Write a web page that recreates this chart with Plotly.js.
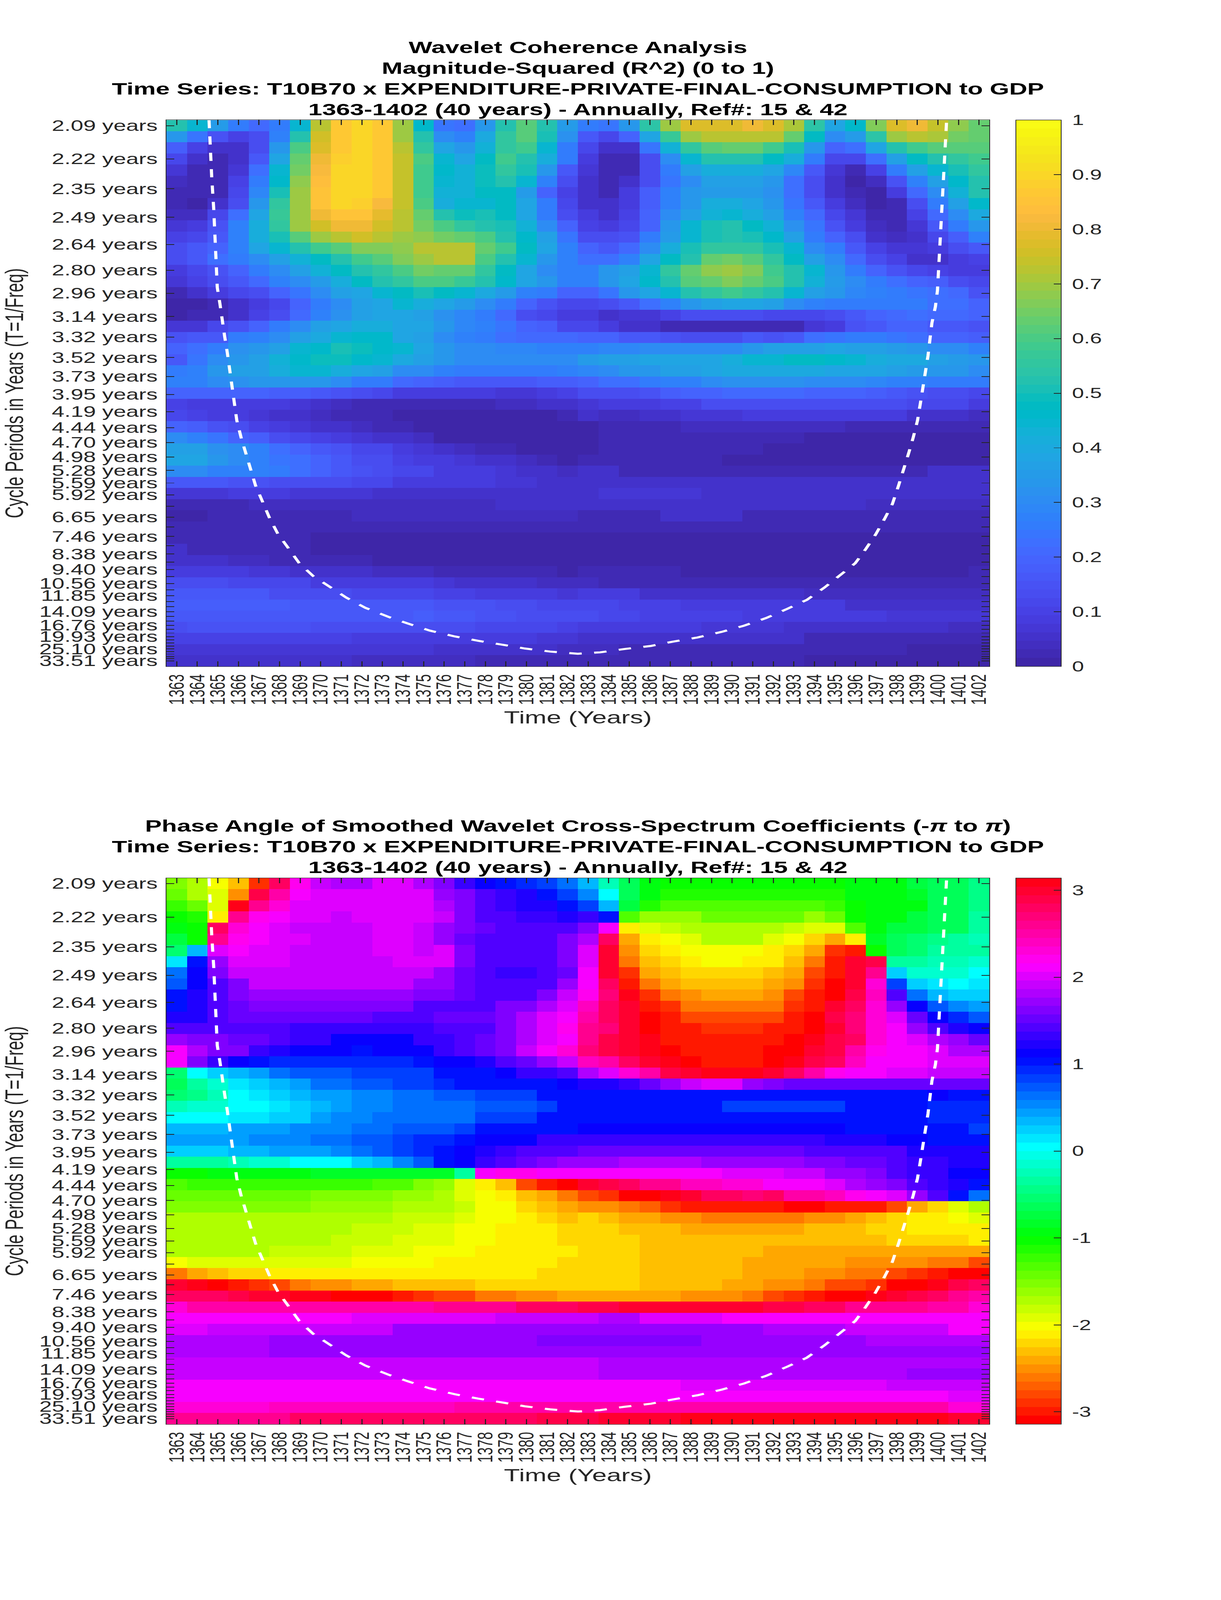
<!DOCTYPE html>
<html>
<head>
<meta charset="utf-8">
<script src="https://cdn.plot.ly/plotly-3.0.1.min.js"></script>
<style>html,body{margin:0;padding:0;background:#fff;overflow:hidden}</style>
</head>
<body>
<div id="frame" style="width:3125px;overflow:hidden"><div id="chart" style="width:3125px;height:6252px;transform-origin:0 0"></div></div>
<script>
const years = [1363,1364,1365,1366,1367,1368,1369,1370,1371,1372,1373,1374,1375,1376,1377,1378,1379,1380,1381,1382,1383,1384,1385,1386,1387,1388,1389,1390,1391,1392,1393,1394,1395,1396,1397,1398,1399,1400,1401,1402];
const periods = [2.09,2.22,2.35,2.49,2.64,2.80,2.96,3.14,3.32,3.52,3.73,3.95,4.19,4.44,4.70,4.98,5.28,5.59,5.92,6.27,6.65,7.04,7.46,7.91,8.38,8.88,9.40,9.96,10.56,11.19,11.85,12.55,13.30,14.09,14.93,15.82,16.76,17.76,18.81,19.93,21.11,22.37,23.70,25.10,26.59,28.18,29.85,31.62,33.51];
const periodLabels = ['2.09 years','2.22 years','2.35 years','2.49 years','2.64 years','2.80 years','2.96 years','3.14 years','3.32 years','3.52 years','3.73 years','3.95 years','4.19 years','4.44 years','4.70 years','4.98 years','5.28 years','5.59 years','5.92 years','','6.65 years','','7.46 years','','8.38 years','','9.40 years','','10.56 years','','11.85 years','','','14.09 years','','','16.76 years','','','19.93 years','','','','25.10 years','','','','','33.51 years'];

const coherence = [
[.52,.45,.35,.25,.21,.25,.45,.72,.86,.90,.86,.70,.46,.24,.23,.33,.52,.62,.52,.35,.25,.24,.33,.54,.70,.78,.77,.77,.80,.78,.71,.54,.38,.46,.66,.78,.80,.74,.68,.64],
[.33,.24,.15,.10,.14,.28,.52,.76,.86,.90,.86,.70,.52,.30,.28,.40,.55,.62,.50,.32,.17,.12,.20,.38,.57,.70,.73,.73,.73,.72,.63,.47,.30,.35,.54,.70,.73,.71,.65,.63],
[.18,.10,.05,.05,.14,.33,.60,.78,.87,.90,.86,.72,.55,.38,.33,.43,.55,.58,.45,.26,.11,.05,.05,.24,.43,.55,.62,.63,.63,.58,.50,.33,.20,.23,.38,.52,.58,.61,.61,.61],
[.11,.06,.02,.05,.17,.38,.63,.80,.89,.90,.86,.74,.60,.44,.38,.47,.58,.53,.41,.25,.08,.03,.03,.14,.31,.45,.52,.52,.52,.47,.41,.25,.12,.12,.22,.36,.47,.53,.55,.58],
[.07,.03,.02,.07,.22,.45,.65,.82,.90,.90,.86,.74,.59,.46,.43,.49,.56,.50,.33,.16,.07,.02,.03,.13,.26,.36,.42,.42,.42,.38,.29,.16,.07,.03,.10,.25,.36,.45,.51,.55],
[.04,.02,.02,.10,.25,.46,.68,.83,.90,.90,.86,.74,.58,.45,.43,.49,.53,.45,.27,.13,.06,.03,.05,.14,.24,.30,.36,.37,.37,.33,.22,.13,.06,.01,.04,.15,.28,.36,.46,.53],
[.03,.02,.03,.11,.29,.50,.70,.85,.90,.90,.86,.74,.58,.43,.43,.47,.48,.35,.20,.10,.05,.03,.08,.18,.27,.33,.35,.35,.35,.32,.22,.13,.06,.02,.01,.08,.21,.30,.43,.52],
[.03,.01,.05,.14,.33,.55,.70,.85,.90,.88,.82,.74,.60,.42,.45,.45,.47,.38,.25,.12,.06,.05,.08,.18,.28,.34,.42,.42,.38,.33,.24,.16,.08,.04,.01,.02,.14,.25,.36,.46],
[.04,.04,.11,.22,.38,.57,.70,.80,.85,.85,.79,.73,.64,.52,.49,.50,.47,.38,.26,.14,.08,.06,.10,.19,.30,.37,.43,.44,.42,.37,.27,.21,.12,.07,.02,.02,.10,.21,.31,.40],
[.07,.08,.15,.27,.41,.56,.69,.75,.80,.80,.76,.72,.65,.60,.56,.52,.50,.43,.30,.20,.10,.08,.12,.20,.33,.44,.50,.52,.47,.43,.32,.24,.15,.08,.04,.02,.07,.16,.25,.33],
[.10,.11,.17,.28,.41,.50,.62,.70,.73,.75,.73,.70,.68,.65,.63,.60,.52,.46,.36,.24,.13,.13,.15,.25,.35,.45,.51,.52,.51,.46,.36,.26,.19,.13,.06,.04,.05,.11,.18,.27],
[.13,.17,.20,.27,.38,.44,.53,.58,.62,.66,.67,.68,.72,.72,.72,.63,.58,.47,.39,.27,.19,.16,.21,.30,.42,.50,.55,.56,.55,.51,.45,.31,.26,.17,.10,.07,.07,.09,.13,.16],
[.13,.16,.22,.25,.31,.37,.43,.48,.53,.58,.62,.66,.70,.72,.72,.60,.53,.44,.34,.28,.23,.23,.28,.38,.47,.52,.63,.65,.62,.55,.47,.36,.30,.21,.14,.10,.06,.05,.08,.10],
[.08,.12,.15,.19,.26,.31,.36,.43,.47,.52,.56,.60,.65,.63,.63,.55,.47,.39,.31,.27,.28,.33,.37,.45,.55,.63,.68,.70,.66,.58,.52,.44,.33,.26,.20,.15,.12,.10,.08,.08],
[.07,.10,.14,.17,.21,.27,.31,.35,.41,.47,.52,.56,.60,.60,.57,.52,.46,.38,.33,.28,.28,.33,.38,.46,.53,.61,.64,.66,.64,.60,.52,.43,.35,.30,.25,.22,.19,.18,.14,.12],
[.03,.05,.09,.11,.14,.19,.24,.30,.36,.39,.44,.47,.50,.47,.44,.40,.35,.28,.25,.20,.19,.24,.33,.38,.45,.52,.56,.58,.55,.52,.45,.37,.33,.29,.27,.26,.24,.23,.21,.15],
[.00,.00,.02,.05,.08,.12,.19,.25,.31,.36,.39,.44,.41,.38,.35,.30,.26,.19,.15,.12,.12,.14,.17,.23,.28,.33,.37,.39,.39,.37,.30,.27,.25,.25,.25,.25,.25,.23,.22,.19],
[.01,.02,.03,.06,.10,.14,.21,.27,.32,.37,.38,.38,.37,.32,.29,.25,.21,.13,.12,.09,.08,.06,.07,.07,.10,.13,.14,.14,.14,.12,.12,.12,.14,.17,.20,.21,.22,.21,.21,.20],
[.07,.07,.12,.15,.19,.26,.31,.36,.39,.41,.41,.39,.38,.33,.29,.27,.24,.20,.18,.12,.11,.09,.06,.06,.03,.02,.02,.02,.02,.02,.03,.07,.09,.15,.17,.19,.19,.17,.17,.15],
[.15,.16,.17,.25,.28,.31,.36,.40,.44,.46,.46,.39,.37,.31,.28,.26,.23,.21,.21,.21,.20,.19,.17,.17,.15,.14,.14,.14,.16,.15,.17,.22,.24,.25,.25,.24,.22,.20,.19,.18],
[.19,.22,.25,.32,.34,.37,.45,.46,.50,.49,.46,.44,.38,.34,.31,.30,.29,.29,.28,.28,.28,.29,.29,.30,.31,.31,.31,.31,.34,.36,.37,.37,.38,.37,.36,.35,.33,.31,.30,.28],
[.17,.24,.30,.34,.36,.43,.46,.49,.49,.46,.45,.40,.37,.33,.31,.30,.30,.30,.30,.30,.35,.36,.37,.38,.39,.39,.39,.41,.45,.45,.47,.47,.46,.44,.41,.40,.40,.37,.35,.34],
[.25,.27,.33,.36,.37,.41,.44,.44,.41,.38,.36,.31,.30,.27,.26,.25,.25,.25,.26,.27,.29,.31,.33,.33,.36,.37,.38,.40,.40,.40,.40,.40,.39,.38,.38,.36,.35,.34,.33,.30],
[.27,.27,.30,.32,.33,.33,.33,.33,.30,.26,.26,.21,.20,.18,.17,.17,.17,.17,.18,.18,.20,.22,.23,.25,.27,.28,.30,.32,.32,.32,.32,.31,.31,.30,.29,.27,.27,.25,.25,.25],
[.19,.19,.19,.20,.19,.18,.18,.16,.15,.13,.12,.09,.08,.08,.08,.08,.07,.07,.08,.10,.14,.13,.14,.15,.18,.19,.19,.21,.21,.21,.21,.20,.20,.19,.18,.17,.15,.14,.14,.12],
[.10,.09,.09,.09,.08,.08,.07,.06,.04,.03,.03,.02,.02,.02,.02,.02,.04,.04,.05,.05,.07,.08,.08,.09,.10,.10,.13,.13,.13,.14,.14,.14,.14,.14,.14,.13,.12,.11,.11,.08],
[.11,.10,.08,.08,.07,.05,.05,.04,.03,.02,.02,.01,.01,.01,.01,.01,.01,.01,.01,.03,.05,.04,.04,.05,.05,.07,.07,.07,.08,.08,.08,.09,.08,.08,.08,.08,.06,.06,.06,.04],
[.19,.18,.15,.13,.10,.08,.07,.06,.05,.04,.03,.02,.01,.01,.00,.00,.00,.00,.00,.00,.01,.02,.03,.03,.03,.04,.04,.04,.04,.04,.04,.04,.04,.03,.02,.02,.02,.02,.02,.02],
[.31,.27,.24,.20,.18,.14,.12,.10,.08,.07,.06,.05,.04,.01,.01,.01,.00,.00,.00,.00,.01,.02,.02,.02,.02,.02,.02,.02,.02,.02,.02,.01,.01,.01,.01,.01,.01,.01,.01,.01],
[.37,.36,.32,.30,.27,.22,.19,.17,.15,.11,.11,.09,.07,.05,.04,.03,.02,.01,.01,.00,.01,.02,.02,.02,.02,.02,.02,.02,.02,.00,.00,.00,.00,.00,.00,.00,.00,.00,.00,.00],
[.39,.38,.34,.30,.27,.24,.22,.19,.16,.14,.13,.10,.09,.08,.07,.06,.05,.04,.02,.01,.03,.02,.02,.02,.02,.02,.02,.01,.01,.01,.01,.01,.01,.01,.01,.01,.01,.01,.01,.01],
[.31,.30,.28,.27,.27,.25,.22,.20,.17,.15,.13,.12,.11,.09,.08,.08,.07,.06,.05,.04,.05,.05,.03,.03,.03,.03,.03,.03,.03,.02,.02,.02,.02,.02,.02,.02,.02,.05,.05,.05],
[.17,.17,.16,.15,.15,.14,.13,.13,.13,.12,.11,.09,.09,.08,.08,.08,.07,.07,.06,.05,.06,.05,.05,.05,.05,.05,.05,.05,.05,.05,.05,.05,.05,.05,.05,.05,.05,.05,.05,.05],
[.07,.07,.07,.08,.08,.08,.07,.07,.07,.07,.06,.06,.06,.06,.06,.06,.06,.06,.06,.06,.06,.07,.07,.07,.07,.07,.05,.05,.05,.05,.05,.05,.05,.05,.05,.05,.05,.05,.05,.05],
[.02,.03,.03,.03,.04,.04,.04,.04,.04,.04,.04,.04,.04,.04,.04,.04,.05,.05,.05,.05,.05,.05,.05,.05,.05,.05,.05,.05,.05,.05,.05,.05,.05,.05,.04,.04,.04,.04,.04,.04],
[.01,.01,.02,.02,.03,.03,.03,.03,.03,.04,.04,.04,.04,.04,.04,.04,.04,.04,.04,.04,.03,.03,.03,.03,.05,.05,.05,.05,.03,.03,.03,.03,.03,.03,.03,.03,.03,.03,.03,.03],
[.02,.02,.02,.02,.02,.02,.02,.02,.02,.02,.02,.02,.02,.02,.02,.02,.02,.02,.02,.02,.02,.02,.02,.02,.02,.02,.02,.02,.02,.02,.02,.02,.02,.02,.02,.02,.02,.02,.02,.02],
[.03,.03,.02,.02,.02,.02,.02,.00,.00,.00,.00,.00,.00,.00,.00,.00,.00,.00,.00,.00,.00,.00,.00,.00,.00,.00,.00,.00,.00,.00,.00,.00,.00,.00,.00,.00,.00,.01,.01,.01],
[.05,.03,.03,.03,.02,.02,.02,.01,.01,.01,.01,.00,.00,.00,.00,.00,.00,.00,.00,.00,.00,.00,.00,.00,.00,.00,.00,.00,.00,.00,.00,.00,.00,.00,.00,.00,.01,.01,.01,.01],
[.06,.05,.05,.04,.04,.03,.03,.03,.02,.02,.01,.01,.01,.01,.00,.00,.00,.00,.00,.00,.00,.00,.00,.00,.00,.00,.00,.00,.00,.00,.00,.00,.00,.00,.01,.01,.01,.01,.01,.01],
[.08,.08,.09,.08,.07,.07,.06,.05,.05,.05,.04,.04,.04,.03,.03,.03,.03,.02,.02,.01,.02,.02,.02,.02,.02,.01,.01,.01,.01,.01,.01,.01,.01,.01,.01,.01,.01,.01,.01,.03],
[.13,.13,.13,.12,.11,.11,.11,.09,.09,.09,.08,.08,.08,.07,.06,.06,.05,.05,.04,.04,.04,.03,.03,.03,.02,.02,.02,.02,.02,.02,.02,.02,.02,.02,.02,.02,.02,.02,.02,.02],
[.16,.16,.16,.16,.16,.14,.14,.14,.13,.12,.12,.11,.11,.10,.10,.09,.09,.08,.08,.07,.08,.08,.08,.06,.06,.06,.05,.05,.05,.05,.05,.04,.04,.04,.04,.04,.04,.04,.04,.04],
[.18,.18,.18,.18,.18,.18,.17,.17,.17,.17,.16,.16,.16,.15,.15,.15,.13,.13,.12,.12,.11,.11,.10,.10,.10,.09,.09,.09,.09,.09,.08,.08,.08,.06,.06,.06,.06,.06,.06,.06],
[.17,.17,.17,.17,.17,.17,.17,.17,.17,.17,.17,.17,.18,.16,.16,.15,.15,.14,.14,.13,.14,.11,.11,.10,.10,.10,.10,.10,.09,.09,.09,.09,.08,.08,.08,.07,.07,.07,.07,.07],
[.13,.15,.15,.15,.15,.15,.15,.14,.14,.14,.14,.14,.14,.13,.13,.12,.12,.11,.11,.10,.09,.09,.09,.08,.08,.08,.07,.07,.07,.07,.06,.06,.06,.06,.06,.06,.06,.06,.04,.04],
[.10,.10,.10,.10,.10,.10,.10,.10,.10,.09,.09,.09,.09,.09,.08,.08,.08,.08,.07,.07,.06,.06,.06,.05,.05,.05,.05,.05,.05,.05,.05,.03,.03,.03,.03,.03,.03,.03,.03,.03],
[.07,.07,.07,.07,.07,.07,.07,.07,.07,.07,.07,.07,.07,.06,.06,.06,.05,.05,.05,.04,.04,.04,.03,.03,.03,.03,.03,.03,.02,.02,.02,.02,.02,.02,.02,.02,.01,.01,.01,.01],
[.05,.05,.05,.05,.05,.05,.05,.05,.05,.04,.04,.04,.04,.04,.04,.03,.03,.03,.03,.03,.03,.03,.03,.03,.02,.02,.02,.02,.02,.02,.02,.01,.01,.01,.01,.01,.01,.01,.01,.01]
];

const phase = [
[-1.57,-1.75,-1.98,-2.3,-2.9,2.75,2.2,1.95,1.85,1.85,2.0,2.0,1.85,1.65,1.3,1.15,1.05,.95,.8,.6,.3,-.2,-.6,-.9,-1.05,-1.05,-1.05,-1.05,-1.05,-1.05,-1.05,-1.05,-1.05,-.95,-.95,-.95,-.75,-.65,-.65,-.4],
[-1.4,-1.67,-1.88,-2.55,2.88,2.5,2.1,2.0,2.0,2.0,2.0,2.0,2.0,1.75,1.58,1.38,1.3,1.2,1.05,.85,.58,0,-.6,-.9,-1.17,-1.17,-1.17,-1.17,-1.17,-1.17,-1.17,-1.1,-1.1,-.9,-.9,-.9,-.8,-.65,-.65,-.4],
[-1.2,-1.4,-1.88,3.05,2.6,2.3,2.0,2.0,2.0,2.0,2.0,2.0,2.0,1.85,1.65,1.45,1.35,1.25,1.25,1.05,.85,.3,-.75,-1.17,-1.37,-1.37,-1.37,-1.37,-1.37,-1.3,-1.3,-1.3,-1.2,-1.05,-.9,-.9,-.9,-.65,-.65,-.42],
[-1.05,-1.17,-2.15,2.65,2.2,2.1,2.0,2.0,1.88,2.0,2.0,2.0,2.0,1.9,1.6,1.45,1.4,1.3,1.3,1.25,1.3,1.05,-1.35,-1.58,-1.58,-1.58,-1.47,-1.47,-1.47,-1.47,-1.47,-1.58,-1.47,-1.05,-.9,-.9,-.7,-.6,-.6,-.35],
[-.95,-1.05,2.75,2.35,2.1,1.98,1.9,1.9,1.9,1.9,2.03,2.03,1.88,1.75,1.6,1.5,1.42,1.42,1.42,1.42,1.58,2.1,-2.15,-1.88,-1.8,-1.67,-1.67,-1.67,-1.67,-1.67,-1.8,-1.88,-1.88,-1.35,-.95,-.7,-.7,-.6,-.6,-.35],
[-.75,-1.05,2.65,2.2,2.1,2.0,2.0,1.9,1.9,1.9,2.03,2.03,1.9,1.7,1.55,1.45,1.4,1.4,1.4,1.6,1.8,2.8,-2.44,-2.09,-2.0,-1.88,-1.75,-1.75,-1.75,-1.88,-2.0,-2.2,-2.44,-2.09,-.8,-.6,-.5,-.42,-.35,-.22],
[-.5,.35,2.0,2.1,2.0,2.0,1.9,1.9,1.9,1.9,2.03,2.03,1.93,2.03,1.6,1.45,1.4,1.4,1.4,1.65,2.03,3.0,-2.55,-2.25,-2.09,-1.97,-1.97,-1.97,-1.97,-2.09,-2.25,-2.44,-2.85,-2.95,-1.05,-.62,-.52,-.35,-.35,-.3],
[.1,1.05,1.75,2.0,1.98,1.98,1.88,1.88,1.88,1.88,1.88,2.03,2.03,1.98,1.6,1.45,1.4,1.4,1.4,1.65,2.0,3.0,-2.65,-2.35,-2.25,-2.15,-2.05,-2.05,-2.15,-2.15,-2.35,-2.65,-2.95,3.0,2.9,-.3,-.3,-.25,-.25,-.12],
[.6,1.15,1.58,1.88,1.88,1.88,1.88,1.88,1.88,1.88,1.88,1.88,1.88,1.7,1.55,1.45,1.35,1.35,1.45,1.55,2.1,2.95,-2.85,-2.44,-2.35,-2.22,-2.22,-2.22,-2.22,-2.35,-2.44,-2.75,-3.0,3.0,2.65,.2,-.1,-.1,-.1,0],
[.75,1.15,1.42,1.65,1.88,1.88,1.88,1.88,1.88,1.88,1.88,1.88,1.75,1.75,1.5,1.45,1.45,1.45,1.45,1.75,2.1,2.8,-2.95,-2.65,-2.44,-2.35,-2.35,-2.35,-2.35,-2.44,-2.55,-2.85,-3.14,2.95,2.35,.85,.2,.1,0,.1],
[1.05,1.25,1.42,1.58,1.75,1.75,1.75,1.75,1.75,1.75,1.75,1.75,1.6,1.6,1.5,1.45,1.45,1.45,1.65,1.9,2.2,2.7,3.1,-2.85,-2.65,-2.55,-2.44,-2.44,-2.44,-2.55,-2.75,-2.95,-3.14,2.85,2.45,1.4,.6,.35,.2,.2],
[1.05,1.2,1.38,1.5,1.65,1.65,1.65,1.65,1.65,1.65,1.65,1.65,1.47,1.47,1.47,1.47,1.58,1.58,1.8,2.0,2.4,2.75,3.0,-3.0,-2.85,-2.65,-2.65,-2.65,-2.65,-2.65,-2.85,-3.0,3.0,2.75,2.35,1.75,1.15,.75,.5,.42],
[1.2,1.25,1.38,1.5,1.5,1.5,1.5,1.5,1.5,1.5,1.4,1.4,1.4,1.5,1.5,1.5,1.65,1.85,2.0,2.15,2.55,2.75,2.95,-3.14,-2.95,-2.8,-2.75,-2.75,-2.75,-2.8,-2.95,-3.14,2.9,2.7,2.3,2.0,1.5,1.15,.95,.75],
[1.4,1.4,1.47,1.47,1.47,1.47,1.33,1.33,1.3,1.3,1.3,1.3,1.3,1.42,1.47,1.42,1.6,1.85,2.05,2.2,2.6,2.7,2.95,-3.14,-3.0,-2.95,-2.85,-2.85,-2.85,-2.95,-2.95,-3.14,2.95,2.7,2.3,2.1,1.75,1.38,1.2,1.15],
[1.75,1.58,1.58,1.55,1.55,1.4,1.3,1.3,1.17,1.17,1.17,1.17,1.33,1.33,1.42,1.55,1.58,1.85,2.05,2.1,2.65,2.9,2.95,3.05,-3.0,-2.95,-2.95,-2.95,-2.95,-2.95,-3.05,3.05,2.9,2.8,2.35,2.1,2.03,1.85,1.75,1.55],
[2.1,1.85,1.65,1.58,1.33,1.2,1.12,1.12,1.12,1.05,1.12,1.12,1.12,1.3,1.38,1.5,1.65,1.88,2.1,2.3,2.7,2.9,2.95,3.05,-3.14,-3.0,-2.95,-2.95,-2.95,-3.05,-3.14,3.0,2.9,2.55,2.25,2.1,2.1,2.05,1.85,1.85],
[2.1,1.58,1.3,1.1,1.05,.98,.98,.98,.98,.98,.98,.98,1.05,1.15,1.15,1.25,1.38,1.55,1.75,1.88,2.4,2.55,2.8,3.0,3.05,-3.14,-3.0,-3.0,-3.0,-3.14,3.05,2.9,2.75,2.45,2.15,2.1,2.1,2.05,2.0,2.0],
[-.5,0,.25,.35,.47,.6,.72,.75,.75,.8,.8,.87,.87,1.05,1.05,1.05,1.15,1.3,1.33,1.42,1.85,2.0,2.35,2.55,2.9,3.0,3.05,3.05,3.05,2.95,2.8,2.5,2.25,2.1,2.1,2.0,2.0,1.93,1.93,1.93],
[-.6,-.35,-.1,.1,.2,.35,.42,.6,.65,.7,.7,.8,.8,.9,1.05,1.05,1.05,1.05,1.05,1.15,1.25,1.25,1.35,1.55,1.75,1.9,2.0,2.0,1.75,1.65,1.55,1.55,1.5,1.5,1.5,1.55,1.55,1.55,1.55,1.55],
[-.5,-.42,-.22,0,.1,.2,.32,.45,.45,.55,.55,.65,.65,.75,.75,.87,.87,.87,1.05,1.05,1.05,1.0,1.0,1.0,1.0,1.0,1.0,1.0,1.0,1.0,1.0,1.0,1.0,1.05,1.05,1.05,1.05,1.15,1.05,1.05],
[-.2,-.12,-.12,0,.05,.17,.25,.3,.42,.5,.5,.6,.6,.62,.62,.75,.75,.75,.8,1.0,1.0,1.0,1.0,1.0,1.0,1.0,1.0,.87,.87,.87,.87,.87,.87,1.0,1.0,1.0,1.0,.9,.9,.9],
[0,.07,.07,.18,.18,.25,.25,.42,.55,.55,.6,.65,.65,.65,.68,.85,.85,.87,1.05,1.05,1.05,1.0,1.05,1.05,1.05,1.05,1.05,1.0,1.0,1.0,1.0,1.0,1.0,1.0,1.0,1.0,1.0,.9,.9,.9],
[.35,.35,.35,.4,.4,.4,.53,.53,.53,.6,.6,.7,.75,.75,.87,1.0,1.0,1.05,1.05,1.05,1.15,1.15,1.15,1.15,1.15,1.15,1.15,1.15,1.15,1.15,1.15,1.15,1.15,1.05,1.05,1.05,1.05,1.05,1.05,.87],
[.4,.4,.4,.4,.5,.5,.5,.65,.65,.72,.72,.85,.95,.95,1.05,1.13,1.15,1.15,1.28,1.28,1.3,1.35,1.35,1.35,1.35,1.35,1.35,1.35,1.35,1.35,1.35,1.35,1.25,1.25,1.25,1.15,1.15,1.05,1.05,1.02],
[.2,.25,.25,.35,.35,.4,.47,.47,.5,.65,.72,.8,.92,1.05,1.1,1.25,1.33,1.4,1.45,1.45,1.5,1.55,1.55,1.55,1.55,1.55,1.55,1.55,1.55,1.55,1.55,1.47,1.47,1.47,1.38,1.38,1.25,1.25,1.2,1.2],
[-.35,-.35,-.3,-.25,-.12,-.12,0,0,.08,.2,.3,.5,.7,1.05,1.15,1.3,1.4,1.5,1.65,1.75,1.75,1.75,1.85,1.85,1.85,1.85,1.75,1.75,1.75,1.75,1.75,1.65,1.65,1.5,1.5,1.42,1.33,1.3,1.2,1.2],
[-1.05,-1.05,-.95,-.95,-.95,-.95,-.95,-.87,-.87,-.87,-.87,-.87,-.87,-.87,-.35,2.1,2.2,2.2,2.1,2.1,2.1,2.15,2.15,2.15,2.15,2.15,2.15,2.0,2.0,2.0,1.9,1.9,1.75,1.75,1.6,1.45,1.33,1.3,1.15,1.1],
[-1.3,-1.2,-1.2,-1.2,-1.2,-1.2,-1.2,-1.25,-1.25,-1.25,-1.37,-1.37,-1.5,-1.65,-1.88,-2.09,-2.35,-2.75,-3.0,-3.14,2.95,2.85,2.75,2.6,2.6,2.45,2.45,2.35,2.35,2.15,2.1,2.1,2.0,1.85,1.7,1.58,1.45,1.33,1.25,1.05],
[-1.42,-1.42,-1.42,-1.42,-1.42,-1.42,-1.42,-1.55,-1.55,-1.55,-1.55,-1.65,-1.65,-1.75,-1.88,-2.0,-2.09,-2.3,-2.44,-2.6,-2.8,-2.9,-3.05,-3.14,3.05,2.95,2.8,2.8,2.7,2.75,2.55,2.55,2.45,2.2,2.1,2.0,1.75,1.45,1.05,.6],
[-1.5,-1.5,-1.5,-1.5,-1.5,-1.5,-1.5,-1.6,-1.6,-1.6,-1.6,-1.68,-1.68,-1.68,-1.85,-2.0,-2.05,-2.25,-2.3,-2.4,-2.5,-2.55,-2.65,-2.72,-2.85,-2.95,-2.95,-3.02,-3.02,-3.02,-3.14,-3.14,-3.02,-3.02,-2.95,-2.75,-2.45,-2.2,-1.88,-1.75],
[-1.68,-1.68,-1.68,-1.68,-1.68,-1.68,-1.68,-1.68,-1.68,-1.68,-1.75,-1.82,-1.82,-1.82,-1.92,-2.02,-2.05,-2.15,-2.22,-2.3,-2.2,-2.35,-2.44,-2.44,-2.52,-2.52,-2.65,-2.65,-2.65,-2.65,-2.65,-2.55,-2.55,-2.44,-2.35,-2.25,-2.15,-2.08,-2.0,-1.88],
[-1.75,-1.75,-1.75,-1.75,-1.75,-1.75,-1.75,-1.75,-1.75,-1.82,-1.82,-1.82,-1.9,-1.9,-2.02,-2.02,-2.08,-2.08,-2.15,-2.2,-2.2,-2.2,-2.35,-2.35,-2.35,-2.45,-2.45,-2.45,-2.45,-2.45,-2.45,-2.35,-2.35,-2.35,-2.25,-2.25,-2.15,-2.15,-2.07,-2.07],
[-1.75,-1.75,-1.75,-1.75,-1.75,-1.75,-1.75,-1.75,-1.82,-1.82,-1.82,-1.9,-1.9,-1.9,-2.02,-2.02,-2.08,-2.08,-2.15,-2.2,-2.2,-2.2,-2.2,-2.32,-2.32,-2.32,-2.32,-2.32,-2.32,-2.32,-2.32,-2.32,-2.32,-2.32,-2.32,-2.25,-2.25,-2.25,-2.25,-2.15],
[-1.75,-1.75,-1.75,-1.75,-1.75,-1.82,-1.82,-1.82,-1.82,-1.9,-1.9,-1.9,-1.98,-1.98,-1.98,-2.07,-2.07,-2.15,-2.15,-2.15,-2.2,-2.2,-2.2,-2.32,-2.32,-2.32,-2.32,-2.32,-2.32,-2.44,-2.44,-2.44,-2.44,-2.44,-2.44,-2.44,-2.44,-2.44,-2.44,-2.44],
[-1.98,-1.88,-1.88,-1.88,-1.88,-1.88,-1.88,-1.88,-1.88,-1.98,-1.98,-1.98,-1.98,-2.07,-2.07,-2.07,-2.15,-2.15,-2.15,-2.2,-2.2,-2.2,-2.2,-2.32,-2.32,-2.32,-2.32,-2.32,-2.44,-2.44,-2.44,-2.44,-2.44,-2.55,-2.55,-2.55,-2.55,-2.65,-2.65,-2.78],
[-2.6,-2.44,-2.35,-2.25,-2.25,-2.15,-2.15,-2.15,-2.15,-2.15,-2.15,-2.15,-2.15,-2.15,-2.15,-2.15,-2.15,-2.15,-2.2,-2.2,-2.2,-2.2,-2.2,-2.32,-2.32,-2.32,-2.32,-2.32,-2.44,-2.44,-2.44,-2.55,-2.55,-2.65,-2.65,-2.75,-2.85,-2.95,-3.05,-3.14],
[2.95,3.1,-3.05,-2.95,-2.85,-2.75,-2.65,-2.55,-2.55,-2.44,-2.44,-2.32,-2.32,-2.32,-2.32,-2.25,-2.25,-2.25,-2.25,-2.25,-2.25,-2.22,-2.22,-2.32,-2.32,-2.32,-2.32,-2.44,-2.44,-2.55,-2.55,-2.65,-2.75,-2.75,-2.9,-3.05,-3.14,3.05,2.9,2.8],
[2.75,2.8,2.8,2.85,2.95,2.95,3.05,3.1,-3.14,-3.05,-3.05,-2.95,-2.85,-2.75,-2.75,-2.65,-2.65,-2.55,-2.55,-2.44,-2.44,-2.44,-2.44,-2.44,-2.44,-2.55,-2.55,-2.55,-2.65,-2.75,-2.85,-2.95,-3.05,-3.14,3.1,3.0,2.85,2.8,2.65,2.55],
[2.3,2.5,2.5,2.5,2.5,2.5,2.5,2.5,2.55,2.55,2.55,2.55,2.55,2.62,2.62,2.62,2.62,2.78,2.78,2.78,2.85,2.85,2.95,2.95,2.95,2.95,2.95,2.95,2.95,2.88,2.88,2.8,2.8,2.6,2.6,2.6,2.6,2.5,2.5,2.35],
[2.1,2.1,2.1,2.1,2.1,2.1,2.1,2.1,2.1,2.0,2.0,2.0,2.0,2.0,2.0,2.0,1.9,1.9,1.9,1.9,1.9,1.85,1.85,1.97,1.97,1.97,1.97,2.1,2.1,2.1,2.1,2.12,2.12,2.12,2.12,2.12,2.12,2.12,2.12,2.12],
[2.0,2.0,1.88,1.88,1.88,1.88,1.88,1.88,1.88,1.88,1.88,1.75,1.75,1.75,1.75,1.75,1.75,1.75,1.75,1.75,1.75,1.75,1.75,1.75,1.75,1.75,1.75,1.75,1.75,1.85,1.85,1.85,1.85,1.95,1.95,1.95,1.95,1.95,2.1,2.1],
[1.85,1.85,1.85,1.85,1.85,1.75,1.75,1.75,1.75,1.75,1.75,1.75,1.75,1.75,1.75,1.75,1.75,1.75,1.62,1.62,1.62,1.62,1.62,1.62,1.62,1.62,1.75,1.75,1.75,1.75,1.75,1.75,1.75,1.75,1.85,1.85,1.85,1.85,1.85,1.85],
[1.85,1.85,1.85,1.85,1.85,1.7,1.7,1.7,1.7,1.7,1.7,1.7,1.7,1.7,1.7,1.7,1.7,1.7,1.7,1.7,1.7,1.72,1.72,1.72,1.72,1.72,1.72,1.72,1.72,1.72,1.72,1.72,1.72,1.72,1.72,1.72,1.72,1.72,1.72,1.72],
[1.88,1.88,1.88,1.88,1.88,1.88,1.88,1.88,1.88,1.88,1.88,1.88,1.88,1.88,1.88,1.88,1.88,1.88,1.88,1.88,1.88,1.78,1.78,1.78,1.78,1.78,1.78,1.78,1.78,1.78,1.78,1.78,1.78,1.78,1.78,1.78,1.78,1.78,1.78,1.78],
[1.9,1.9,1.9,1.9,1.9,1.9,1.9,1.9,1.9,1.9,1.9,1.9,1.9,1.9,1.9,1.9,1.9,1.9,1.9,1.9,1.9,1.86,1.86,1.86,1.86,1.86,1.86,1.86,1.86,1.86,1.86,1.86,1.86,1.86,1.86,1.86,1.76,1.76,1.76,1.76],
[2.1,2.1,2.1,2.1,2.1,2.1,2.1,2.1,2.1,2.1,2.1,2.1,2.1,2.1,2.1,2.1,2.1,2.1,2.1,2.1,2.1,2.1,2.1,2.1,2.1,2.0,2.0,2.0,2.0,2.0,2.0,2.0,2.0,2.0,2.0,1.88,1.88,1.88,1.88,1.88],
[2.1,2.1,2.1,2.1,2.1,2.1,2.1,2.1,2.1,2.1,2.1,2.1,2.1,2.1,2.1,2.1,2.1,2.1,2.1,2.1,2.1,2.12,2.12,2.12,2.12,2.12,2.12,2.12,2.12,2.12,2.12,2.12,2.12,2.12,2.12,2.12,2.12,2.12,2.0,2.0],
[2.35,2.35,2.35,2.35,2.35,2.45,2.45,2.45,2.45,2.45,2.45,2.45,2.45,2.45,2.5,2.5,2.5,2.5,2.5,2.5,2.5,2.52,2.52,2.52,2.52,2.52,2.52,2.52,2.52,2.52,2.52,2.52,2.52,2.52,2.52,2.52,2.52,2.52,2.3,2.3],
[2.65,2.65,2.65,2.65,2.65,2.65,2.75,2.75,2.75,2.75,2.75,2.75,2.8,2.8,2.8,2.8,2.8,2.8,2.87,2.87,2.87,3.0,3.0,3.0,3.0,3.05,3.05,3.05,3.05,3.08,3.08,3.08,3.08,3.08,3.08,3.08,3.08,3.08,3.0,3.0]
];

const coneYears = [1364.57,1364.61,1364.70,1364.80,1364.86,1364.97,1365.10,1365.20,1365.33,1365.46,1365.58,1365.69,1365.81,1365.92,1366.13,1366.36,1366.60,1366.83,1367.17,1367.50,1367.91,1368.39,1368.96,1369.62,1370.38,1371.24,1372.17,1373.31,1374.26,1375.30,1376.52,1377.66,1378.89,1379.92,1381.15,1382.38,1382.50,1383.58,1384.76,1386.05,1387.13,1388.31,1389.49,1390.57,1391.65,1392.68,1393.63,1394.50,1395.30,1395.98,1396.48,1396.97,1397.41,1397.79,1398.09,1398.34,1398.59,1398.80,1399.01,1399.16,1399.27,1399.41,1399.52,1399.71,1399.88,1399.98,1400.07,1400.17,1400.22,1400.32,1400.38,1400.42];
const coneFreq = [.48315,.46277,.43552,.40807,.38082,.34286,.32913,.31519,.30167,.28795,.27422,.26049,.24483,.23131,.21694,.20364,.19013,.17683,.16331,.15001,.13650,.12513,.11162,.10111,.09253,.08287,.07429,.06657,.06099,.05520,.05027,.04662,.04319,.04018,.03761,.03589,.03580,.03696,.03975,.04233,.04597,.04941,.05413,.05927,.06571,.07343,.08094,.09145,.10217,.11161,.12319,.13563,.14893,.16137,.17682,.19012,.20449,.21693,.23131,.24675,.25812,.27206,.28558,.31304,.32677,.34028,.36774,.39584,.42244,.45054,.46428,.48120];

const parula64 = [[.2422,.1504,.6603],[.2504,.165,.7076],[.2578,.1818,.7511],[.2647,.1978,.7952],[.2706,.2147,.8364],[.2751,.2342,.871],[.2783,.2559,.8991],[.2803,.2782,.9221],[.2813,.3006,.9414],[.281,.3228,.9579],[.2795,.3447,.9717],[.276,.3667,.9829],[.2699,.3892,.9906],[.2602,.4123,.9952],[.244,.4358,.9988],[.2206,.4603,.9973],[.1963,.4847,.9892],[.1834,.5074,.9798],[.1786,.5289,.9682],[.1764,.5499,.952],[.1687,.5703,.9359],[.154,.5902,.9218],[.146,.6091,.9079],[.138,.6276,.8973],[.1248,.6459,.8883],[.1113,.6635,.8763],[.0952,.6798,.8598],[.0689,.6948,.8394],[.0297,.7082,.8163],[.0036,.7203,.7917],[.0067,.7312,.766],[.0433,.7411,.7394],[.0964,.75,.712],[.1408,.7584,.6842],[.1717,.767,.6554],[.1938,.7758,.6251],[.2161,.7843,.5923],[.247,.7918,.5567],[.2906,.7973,.5188],[.3406,.8008,.4789],[.3909,.8029,.4354],[.4456,.8024,.3909],[.5044,.7993,.348],[.5616,.7942,.3045],[.6174,.7876,.2612],[.672,.7793,.2227],[.7242,.7698,.191],[.7738,.7598,.1646],[.8203,.7498,.1535],[.8634,.7406,.1596],[.9035,.733,.1774],[.9393,.7288,.21],[.9728,.7298,.2394],[.9956,.7434,.2371],[.997,.7659,.2199],[.9952,.7861,.199],[.9892,.8134,.176],[.9786,.8405,.151],[.9676,.8659,.13],[.961,.8905,.1153],[.9597,.9135,.1032],[.9628,.9373,.0895],[.9691,.9606,.0697],[.9769,.9839,.0805]];

const cohTicks = [0,.1,.2,.3,.4,.5,.6,.7,.8,.9,1];
const cohTickText = ['0','0.1','0.2','0.3','0.4','0.5','0.6','0.7','0.8','0.9','1'];
const phaseTicks = [-3,-2,-1,0,1,2,3];
const phaseTickText = ['-3','-2','-1','0','1','2','3'];

const titleTop = ['Wavelet Coherence Analysis','Magnitude-Squared (R^2) (0 to 1)','Time Series: T10B70 x EXPENDITURE-PRIVATE-FINAL-CONSUMPTION to GDP','1363-1402 (40 years) - Annually, Ref#: 15 &amp; 42'];
const titleBottom = ['Phase Angle of Smoothed Wavelet Cross-Spectrum Coefficients (-<i>π</i> to <i>π</i>)','Time Series: T10B70 x EXPENDITURE-PRIVATE-FINAL-CONSUMPTION to GDP','1363-1402 (40 years) - Annually, Ref#: 15 &amp; 42'];

function rgb(c){return 'rgb('+c.map(v=>Math.round(v*255)).join(',')+')';}
function hsvColor(i){
  const h=i/64*6, k=Math.floor(h), f=h-k;
  return [[1,f,0],[1-f,1,0],[0,1,f],[0,1-f,1],[f,0,1],[1,0,1-f]][k];
}
function stepped(list){
  const out=[];
  list.forEach((c,i)=>{out.push([i/64,rgb(c)]);out.push([(i+1)/64,rgb(c)]);});
  return out;
}
const parulaScale = stepped(parula64);
const hsvScale = stepped(Array.from({length:64},(_, i)=>hsvColor(i)));

const W=3125,H=6252;
/* The window can be shorter than the chart: fit the whole chart to the window's height. */
const fit=Math.min(1,window.innerHeight/H);
document.getElementById('frame').style.height=Math.round(H*fit)+'px';
document.getElementById('chart').style.transform='scaleY('+fit+')';

const FONT='"Liberation Sans", Arial, sans-serif';
const INK='#262626';
const plotL=426,plotR=2532;
const p1T=469,p1B=2604,p2T=3431,p2B=5565;
const cbL=2600,cbW=116;

const f0=1/periods[0], fN=1/periods[periods.length-1], df=(f0-fN)/48;
const freqs=periods.map(p=>1/p);
const rowFreq=coherence.map((_, i)=>f0-i*df);

function cbar(top,len,vals,text){
  return {x:cbL/W,xanchor:'left',y:1-top/H,yanchor:'top',yref:'paper',xref:'paper',thickness:cbW,thicknessmode:'pixels',
    len:len,lenmode:'pixels',xpad:0,ypad:0,outlinecolor:INK,outlinewidth:2,borderwidth:0,
    ticks:'inside',ticklen:20,tickwidth:3,tickcolor:INK,tickmode:'array',tickvals:vals,ticktext:text.map(s=>'\u00a0'+s),
    tickfont:{family:FONT,size:55,color:INK},ticklabelposition:'outside'};
}
function xAxis(anchor){
  return {domain:[plotL/W,plotR/W],anchor:anchor,range:[1362.5,1402.5],tickmode:'array',tickvals:years,ticktext:years.map(String),
    tickangle:-90,ticks:'inside',ticklen:20,tickwidth:3,tickcolor:INK,showline:true,linecolor:INK,linewidth:2,mirror:'allticks',
    showgrid:false,zeroline:false,tickfont:{family:FONT,size:54,color:INK},ticklabelstandoff:7,
    title:{text:'Time (Years)',font:{family:FONT,size:67,color:INK},standoff:26},automargin:false};
}
function yAxis(top,bottom,anchor){
  return {domain:[1-bottom/H,1-top/H],anchor:anchor,range:[fN-df/2,f0+df/2],tickmode:'array',tickvals:freqs,ticktext:periodLabels,
    ticks:'inside',ticklen:20,tickwidth:3,tickcolor:INK,showline:true,linecolor:INK,linewidth:2,mirror:'allticks',
    showgrid:false,zeroline:false,tickfont:{family:FONT,size:58,color:INK},ticklabelstandoff:9,
    title:{text:'Cycle Periods in Years (T=1/Freq)',font:{family:FONT,size:65,color:INK},standoff:30},automargin:false};
}
const traces=[
 {type:'heatmap',z:coherence,x:years,y:rowFreq,xaxis:'x',yaxis:'y',zmin:0,zmax:1,zsmooth:false,colorscale:parulaScale,colorbar:cbar(p1T,p1B-p1T,cohTicks,cohTickText)},
 {type:'scatter',mode:'lines',x:coneYears,y:coneFreq,xaxis:'x',yaxis:'y',line:{color:'#ffffff',width:8,dash:'32px,32px'},showlegend:false},
 {type:'heatmap',z:phase,x:years,y:rowFreq,xaxis:'x2',yaxis:'y2',zmin:-Math.PI,zmax:Math.PI,zsmooth:false,colorscale:hsvScale,colorbar:cbar(p2T,p2B-p2T,phaseTicks,phaseTickText)},
 {type:'scatter',mode:'lines',x:coneYears,y:coneFreq,xaxis:'x2',yaxis:'y2',line:{color:'#ffffff',width:8,dash:'32px,32px'},showlegend:false}
];
const annotations=[];
function addTitles(lines,lastY){
  const n=lines.length;
  lines.forEach((t,i)=>{
    annotations.push({xref:'paper',yref:'paper',x:(plotL+plotR)/2/W,y:1-(lastY-(n-1-i)*81)/H,xanchor:'center',yanchor:'middle',showarrow:false,
      text:'<b>'+t+'</b>',font:{family:FONT,size:64,color:'#000000'}});
  });
}
addTitles(titleTop,428);
addTitles(titleBottom,3390);
const layout={width:W,height:H,margin:{l:0,r:0,t:0,b:0,autoexpand:false},paper_bgcolor:'#ffffff',plot_bgcolor:'#ffffff',showlegend:false,
  xaxis:xAxis('y'),yaxis:yAxis(p1T,p1B,'x'),xaxis2:xAxis('y2'),yaxis2:yAxis(p2T,p2B,'x2'),annotations:annotations};
Plotly.newPlot('chart',traces,layout,{displayModeBar:false,responsive:false});
</script>
</body>
</html>
